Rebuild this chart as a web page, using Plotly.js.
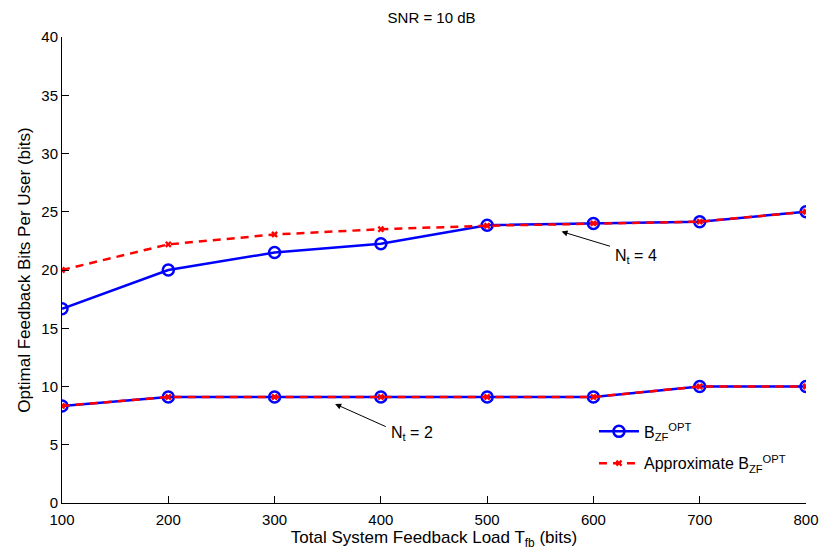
<!DOCTYPE html>
<html><head><meta charset="utf-8">
<script src="https://cdn.plot.ly/plotly-3.0.1.min.js"></script>
<style>body{margin:0;background:#fff}#c{width:822px;height:558px}</style>
</head><body><div id="c"></div>
<script>
const feedbackLoad = [100, 200, 300, 400, 500, 600, 700, 800];
const nt4Opt = [16.67, 20.0, 21.5, 22.25, 23.85, 24.0, 24.15, 25.0];
const nt4Approx = [20.0, 22.2, 23.05, 23.5, 23.8, 24.0, 24.15, 25.0];
const nt2Opt = [8.33, 9.1, 9.1, 9.1, 9.1, 9.1, 10.0, 10.0];
const nt2Approx = [8.33, 9.1, 9.1, 9.1, 9.1, 9.1, 10.0, 10.0];
const xTicks = [100, 200, 300, 400, 500, 600, 700, 800];
const yTicks = [0, 5, 10, 15, 20, 25, 30, 35, 40];

const blueLine = {color: '#0000ff', width: 2.5};
const blueMarker = {symbol: 'circle-open', size: 11, color: '#0000ff', line: {width: 2.5, color: '#0000ff'}};
const redLine = {color: '#ff0000', width: 2.5, dash: '8px,6px'};
const redMarker = {symbol: 'x', size: 6, color: '#ff0000', line: {width: 0}};

const traces = [
  {x: feedbackLoad, y: nt4Opt, mode: 'lines+markers', line: blueLine, marker: blueMarker, name: 'B<sub>ZF</sub><sup>OPT</sup>', legendgroup: 'a', showlegend: true},
  {x: feedbackLoad, y: nt4Approx, mode: 'lines+markers', line: redLine, marker: redMarker, name: 'Approximate B<sub>ZF</sub><sup>OPT</sup>', legendgroup: 'b', showlegend: true},
  {x: feedbackLoad, y: nt2Opt, mode: 'lines+markers', line: blueLine, marker: blueMarker, legendgroup: 'a', showlegend: false},
  {x: feedbackLoad, y: nt2Approx, mode: 'lines+markers', line: redLine, marker: redMarker, legendgroup: 'b', showlegend: false}
];

const font = {family: 'Liberation Sans, Arial, sans-serif', size: 15, color: '#000'};

const layout = {
  width: 822, height: 558,
  margin: {l: 62, r: 16, t: 37, b: 55},
  paper_bgcolor: '#fff', plot_bgcolor: '#fff',
  font: font,
  title: {text: 'SNR = 10 dB', x: 0.525, xanchor: 'center', y: 0.978, yanchor: 'top', font: {family: font.family, size: 15}},
  xaxis: {
    range: [100, 800], tickvals: xTicks, ticktext: xTicks.map(String),
    ticks: 'inside', ticklen: 7, tickcolor: '#000', showline: true, linecolor: '#000', linewidth: 1,
    showgrid: false, zeroline: false, mirror: false, ticklabelstandoff: 3,
    title: {text: 'Total System Feedback Load T<sub>fb</sub> (bits)', standoff: 2, font: {family: font.family, size: 17}}
  },
  yaxis: {
    range: [0, 40], tickvals: yTicks, ticktext: yTicks.map(String),
    ticks: 'inside', ticklen: 7, tickcolor: '#000', showline: true, linecolor: '#000', linewidth: 1,
    showgrid: false, zeroline: false, mirror: false,
    title: {text: 'Optimal Feedback Bits Per User (bits)', standoff: 6, font: {family: font.family, size: 17}}
  },
  legend: {x: 0.715, y: 0.19, xanchor: 'left', yanchor: 'top', traceorder: 'grouped', bgcolor: 'rgba(255,255,255,0)', font: {family: font.family, size: 16}, tracegroupgap: 8, itemwidth: 40},
  annotations: [
    {x: 570, y: 23.3, ax: 617, ay: 22.0, xref: 'x', yref: 'y', axref: 'x', ayref: 'y', showarrow: true, arrowhead: 2, arrowsize: 1.2, arrowwidth: 1, arrowcolor: '#000', text: ''},
    {x: 618, y: 21.2, xref: 'x', yref: 'y', text: 'N<sub>t</sub> = 4', showarrow: false, xanchor: 'left', font: {family: font.family, size: 16}},
    {x: 357, y: 8.5, ax: 406, ay: 6.5, xref: 'x', yref: 'y', axref: 'x', ayref: 'y', showarrow: true, arrowhead: 2, arrowsize: 1.2, arrowwidth: 1, arrowcolor: '#000', text: ''},
    {x: 408, y: 6.0, xref: 'x', yref: 'y', text: 'N<sub>t</sub> = 2', showarrow: false, xanchor: 'left', font: {family: font.family, size: 16}}
  ]
};

Plotly.newPlot('c', traces, layout, {displayModeBar: false, staticPlot: true});
</script></body></html>
